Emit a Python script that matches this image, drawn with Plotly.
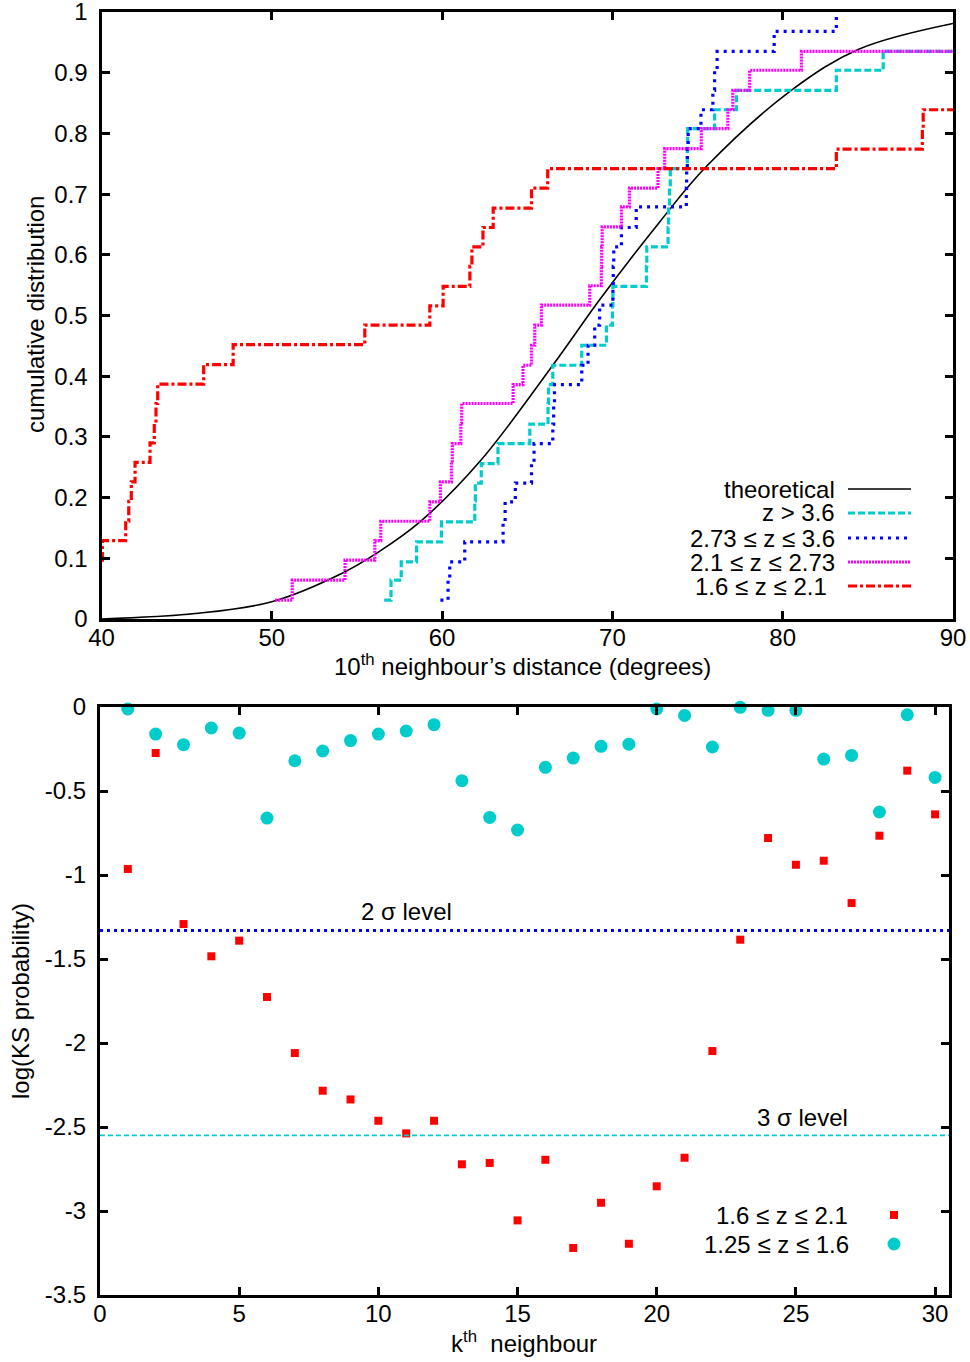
import plotly.graph_objects as go

W, H = 970, 1362

# ---------------- top panel data ----------------
theo_x = [40, 45.5, 50, 54.1, 56.3, 58.7, 62.2, 66.5, 69.25, 72.8, 75.5, 80.6, 84.5, 90]
theo_y = [0.0, 0.009, 0.0285, 0.075, 0.111, 0.16, 0.259, 0.418, 0.526, 0.655, 0.745, 0.873, 0.939, 0.981]

cyan_x = [56.6, 57.0, 57.6, 58.5, 59.96, 61.92, 61.95, 62.3, 63.28, 65.15, 66.22, 66.25, 66.5, 68.2,
          69.65, 70.0, 70.03, 72.0, 72.02, 73.27, 73.3, 73.35, 73.4, 74.4, 74.42, 76.0, 77.28, 83.15,
          85.9, 90.0]
cyan_y = [0.031, 0.064, 0.094, 0.127, 0.160, 0.194, 0.224, 0.256, 0.289, 0.321, 0.355, 0.386, 0.418,
          0.451, 0.484, 0.517, 0.548, 0.581, 0.613, 0.645, 0.679, 0.710, 0.742, 0.775, 0.808, 0.839,
          0.871, 0.904, 0.935, 0.935]

blue_x = [59.9, 60.35, 60.45, 61.33, 63.58, 63.7, 64.3, 65.25, 65.4, 66.5, 66.55, 66.6, 68.2, 68.57,
          68.96, 69.25, 70.03, 70.05, 70.08, 70.53, 71.4, 74.34, 74.36, 74.4, 74.45, 75.2, 75.9, 76.0,
          76.15, 79.5, 83.15]
blue_y = [0.031, 0.064, 0.094, 0.127, 0.160, 0.193, 0.224, 0.256, 0.289, 0.321, 0.355, 0.386, 0.418,
          0.451, 0.484, 0.517, 0.548, 0.581, 0.613, 0.645, 0.679, 0.710, 0.742, 0.775, 0.808, 0.839,
          0.871, 0.904, 0.935, 0.968, 1.0]

mag_x = [50.2, 51.2, 54.3, 56.05, 56.4, 59.28, 59.9, 60.55, 60.6, 61.1, 61.15, 64.17, 64.75, 65.25,
         65.44, 65.83, 68.67, 69.35, 69.37, 69.4, 70.53, 71.0, 72.68, 73.07, 75.22, 76.78, 77.07,
         78.06, 81.1, 90.0]
mag_y = [0.031, 0.064, 0.097, 0.129, 0.161, 0.193, 0.226, 0.258, 0.289, 0.323, 0.355, 0.386, 0.418,
         0.451, 0.484, 0.517, 0.549, 0.581, 0.613, 0.646, 0.679, 0.710, 0.742, 0.775, 0.808, 0.839,
         0.871, 0.904, 0.935, 0.935]

red_x = [40.0, 40.05, 41.42, 41.6, 41.75, 41.97, 42.85, 43.1, 43.2, 43.3, 46.0, 47.73, 55.46, 59.28,
         60.06, 61.63, 61.75, 62.4, 63.0, 65.25, 66.2, 83.15, 88.2, 88.25, 90.0]
red_y = [0.097, 0.129, 0.161, 0.194, 0.226, 0.258, 0.290, 0.323, 0.355, 0.387, 0.419, 0.452, 0.484,
         0.516, 0.548, 0.581, 0.613, 0.645, 0.677, 0.710, 0.742, 0.774, 0.806, 0.839, 0.839]

top_labels = ["theoretical", "z > 3.6", "2.73 \u2264 z \u2264 3.6", "2.1 \u2264 z \u2264 2.73",
              "1.6 \u2264 z \u2264 2.1"]

x1_ticks = [40, 50, 60, 70, 80, 90]
y1_ticks = [0, 0.1, 0.2, 0.3, 0.4, 0.5, 0.6, 0.7, 0.8, 0.9, 1]
y1_text = ["0", "0.1", "0.2", "0.3", "0.4", "0.5", "0.6", "0.7", "0.8", "0.9", "1"]

# ---------------- bottom panel data ----------------
k_vals = list(range(1, 31))
red_ks = [-0.964, -0.274, -1.292, -1.484, -1.391, -1.726, -2.06, -2.284, -2.336, -2.463,
          -2.538, -2.463, -2.722, -2.714, -3.056, -2.695, -3.22, -2.951, -3.195, -2.853,
          -2.683, -2.048, -1.385, -0.780, -0.939, -0.915, -1.167, -0.766, -0.379, -0.639]
cyan_ks = [-0.012, -0.161, -0.224, -0.125, -0.155, -0.661, -0.320, -0.262, -0.200, -0.161,
           -0.143, -0.105, -0.439, -0.657, -0.732, -0.359, -0.304, -0.234, -0.221, -0.012,
           -0.050, -0.238, -0.002, -0.020, -0.020, -0.310, -0.288, -0.625, -0.046, -0.419]
sigma_levels = [-1.33, -2.55]
sigma_labels = ["2 \u03c3 level", "3 \u03c3 level"]
bottom_labels = ["1.6 \u2264 z \u2264 2.1", "1.25 \u2264 z \u2264 1.6"]

x2_ticks = [0, 5, 10, 15, 20, 25, 30]
y2_ticks = [0, -0.5, -1, -1.5, -2, -2.5, -3, -3.5]
y2_text = ["0", "-0.5", "-1", "-1.5", "-2", "-2.5", "-3", "-3.5"]

# ---------------- styles ----------------
FONT = "Liberation Sans, Arial, Helvetica, sans-serif"
FS = 24
C_CYAN = "#00CCCC"
C_BLUE = "#0000FF"
C_MAG = "#FF00FF"
C_RED = "#FF0000"
D_CYAN = "7px,3px"
D_BLUE = "3px,5px"
D_MAG = "2px,1px"
D_RED = "9px,3px,3px,3px"


def fx(px):
    return px / W


def fy(py):
    return 1 - py / H


fig = go.Figure()

fig.add_trace(go.Scatter(x=theo_x, y=theo_y, mode="lines", line=dict(color="black", width=1.6, shape="spline"),
                         xaxis="x", yaxis="y", showlegend=False))
fig.add_trace(go.Scatter(x=cyan_x, y=cyan_y, mode="lines", line=dict(color=C_CYAN, width=3.2, dash=D_CYAN, shape="hv"),
                         xaxis="x", yaxis="y", showlegend=False))
fig.add_trace(go.Scatter(x=blue_x, y=blue_y, mode="lines", line=dict(color=C_BLUE, width=3.2, dash=D_BLUE, shape="hv"),
                         xaxis="x", yaxis="y", showlegend=False))
fig.add_trace(go.Scatter(x=mag_x, y=mag_y, mode="lines", line=dict(color=C_MAG, width=3.2, dash=D_MAG, shape="hv"),
                         xaxis="x", yaxis="y", showlegend=False))
fig.add_trace(go.Scatter(x=red_x, y=red_y, mode="lines", line=dict(color=C_RED, width=3.2, dash=D_RED, shape="hv"),
                         xaxis="x", yaxis="y", showlegend=False))

fig.add_trace(go.Scatter(x=k_vals, y=red_ks, mode="markers",
                         marker=dict(symbol="square", size=8, color=C_RED, line=dict(width=0)),
                         xaxis="x2", yaxis="y2", showlegend=False, cliponaxis=False))
fig.add_trace(go.Scatter(x=k_vals, y=cyan_ks, mode="markers",
                         marker=dict(symbol="circle", size=13, color=C_CYAN, line=dict(width=0)),
                         xaxis="x2", yaxis="y2", showlegend=False, cliponaxis=False))

axis_common = dict(showline=True, linecolor="black", linewidth=3, mirror="ticks", ticks="inside",
                   ticklen=8, tickwidth=2.5, tickcolor="black", showgrid=False, zeroline=False,
                   automargin=False, ticklabeloverflow="allow",
                   tickfont=dict(family=FONT, size=FS, color="black"))

shapes = []
annotations = []

# sigma lines
shapes.append(dict(type="line", xref="x2 domain", yref="y2", x0=0, x1=1, y0=sigma_levels[0], y1=sigma_levels[0],
                   line=dict(color=C_BLUE, width=3, dash="3px,4px"), layer="above"))
shapes.append(dict(type="line", xref="x2 domain", yref="y2", x0=0, x1=1, y0=sigma_levels[1], y1=sigma_levels[1],
                   line=dict(color=C_CYAN, width=1.6, dash="5px,3px"), layer="above"))
annotations.append(dict(text=sigma_labels[0], xref="x2", yref="y2", x=11.0, y=-1.215, showarrow=False,
                        font=dict(family=FONT, size=FS, color="black"), xanchor="center", yanchor="middle"))
annotations.append(dict(text=sigma_labels[1], xref="x2", yref="y2", x=25.25, y=-2.446, showarrow=False,
                        font=dict(family=FONT, size=FS, color="black"), xanchor="center", yanchor="middle"))

# top legend
leg_y = [489, 513, 538, 562, 586]
leg_right = [837, 837, 837, 837, 829]
leg_styles = [("black", 1.6, "solid"), (C_CYAN, 3.2, D_CYAN), (C_BLUE, 3.2, D_BLUE),
              (C_MAG, 3.2, D_MAG), (C_RED, 3.2, D_RED)]
for lbl, yy, xr, (c, w, d) in zip(top_labels, leg_y, leg_right, leg_styles):
    annotations.append(dict(text=lbl, xref="paper", yref="paper", x=fx(xr), y=fy(yy), showarrow=False,
                            xanchor="right", yanchor="middle", font=dict(family=FONT, size=FS, color="black")))
    shapes.append(dict(type="line", xref="paper", yref="paper", x0=fx(848), x1=fx(911), y0=fy(yy), y1=fy(yy),
                       line=dict(color=c, width=w, dash=d)))

# bottom legend
annotations.append(dict(text=bottom_labels[0], xref="paper", yref="paper", x=fx(850), y=fy(1215), showarrow=False,
                        xanchor="right", yanchor="middle", font=dict(family=FONT, size=FS, color="black")))
annotations.append(dict(text=bottom_labels[1], xref="paper", yref="paper", x=fx(851), y=fy(1244), showarrow=False,
                        xanchor="right", yanchor="middle", font=dict(family=FONT, size=FS, color="black")))
shapes.append(dict(type="rect", xref="paper", yref="paper", x0=fx(890), x1=fx(898), y0=fy(1219), y1=fy(1211),
                   fillcolor=C_RED, line=dict(width=0)))
shapes.append(dict(type="circle", xref="paper", yref="paper", x0=fx(887.5), x1=fx(900.5), y0=fy(1250.5), y1=fy(1237.5),
                   fillcolor=C_CYAN, line=dict(width=0)))

# axis titles
annotations.append(dict(text="cumulative distribution", xref="paper", yref="paper", x=fx(35), y=fy(315),
                        textangle=-90, showarrow=False, xanchor="center", yanchor="middle",
                        font=dict(family=FONT, size=FS, color="black")))
annotations.append(dict(text="10<sup>th</sup> neighbour\u2019s distance (degrees)", xref="paper", yref="paper",
                        x=fx(522), y=fy(665), showarrow=False, xanchor="center", yanchor="middle",
                        font=dict(family=FONT, size=FS, color="black")))
annotations.append(dict(text="log(KS probability)", xref="paper", yref="paper", x=fx(20), y=fy(1001),
                        textangle=-90, showarrow=False, xanchor="center", yanchor="middle",
                        font=dict(family=FONT, size=FS, color="black")))
annotations.append(dict(text="k<sup>th</sup>\u00a0\u00a0neighbour", xref="paper", yref="paper",
                        x=fx(524), y=fy(1342), showarrow=False, xanchor="center", yanchor="middle",
                        font=dict(family=FONT, size=FS, color="black")))

fig.update_layout(
    width=W, height=H, autosize=False,
    margin=dict(l=0, r=0, t=0, b=0, pad=0),
    paper_bgcolor="white", plot_bgcolor="white",
    showlegend=False,
    xaxis=dict(domain=[fx(101.5), fx(953)], range=[40, 90], tickvals=x1_ticks, anchor="y",
               ticklabelstandoff=-5, **axis_common),
    yaxis=dict(domain=[fy(619), fy(12)], range=[0, 1], tickvals=y1_ticks, ticktext=y1_text, anchor="x",
               ticklabelstandoff=6, **axis_common),
    xaxis2=dict(domain=[fx(100), fx(949)], range=[0, 30.5], tickvals=x2_ticks, anchor="y2",
                ticklabelstandoff=-5, **axis_common),
    yaxis2=dict(domain=[fy(1295), fy(707)], range=[-3.5, 0], tickvals=y2_ticks, ticktext=y2_text, anchor="x2",
                ticklabelstandoff=6, **axis_common),
    shapes=shapes,
    annotations=annotations,
)

fig.write_html("out.html", config={"displayModeBar": False, "responsive": False},
               default_width="970px", default_height="1362px")

with open("out.html", "r", encoding="utf-8") as f:
    html = f.read()
html = html.replace("<body>", '<body style="margin:0;padding:0;overflow:hidden;">', 1)
with open("out.html", "w", encoding="utf-8") as f:
    f.write(html)
